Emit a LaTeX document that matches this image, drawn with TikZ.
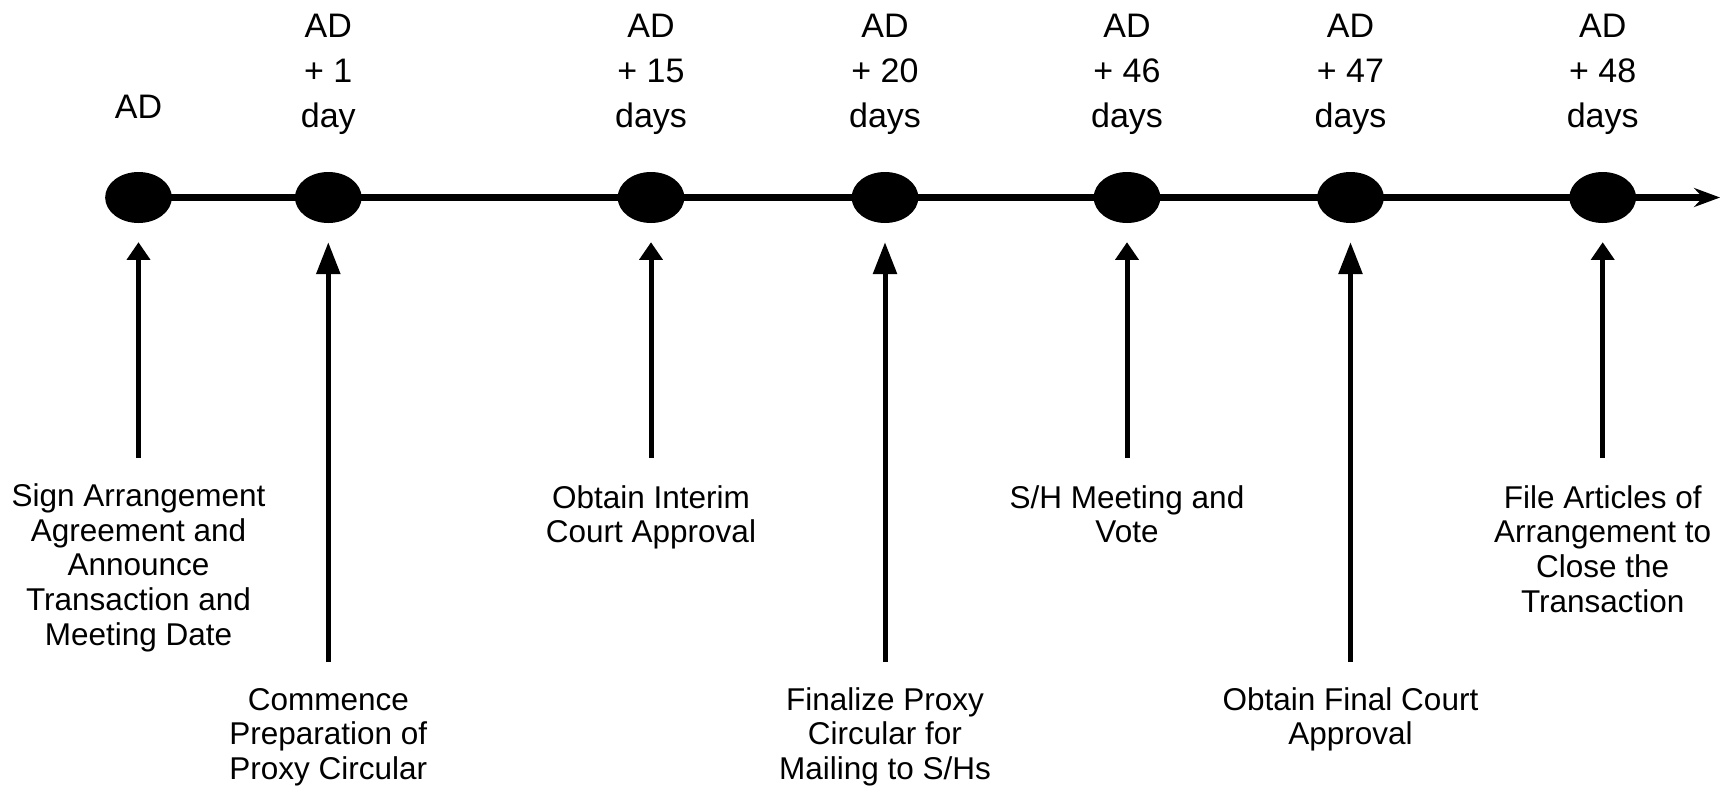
\documentclass[tikz,border=0pt]{standalone}
\usepackage{fontspec}
\setmainfont{Liberation Sans}
\usetikzlibrary{arrows.meta,shapes.geometric}
\begin{document}
\begin{tikzpicture}[x=1pt,y=-1pt,
  event/.style={ellipse, fill=black, minimum width=66.7pt, minimum height=51pt, inner sep=0pt},
  axisline/.style={line width=7pt, -{Stealth[length=26pt,width=19pt,inset=9pt]}},
  shortarr/.style={line width=5pt, shorten >=19pt, -{Triangle[length=17.6pt,width=22.7pt]}},
  longarr/.style={line width=5pt, shorten >=19pt, -{Triangle[length=32pt,width=23.3pt]}},
  when/.style={font=\fontsize{34}{45}\selectfont, align=center, inner sep=0pt, anchor=base},
  task/.style={font=\fontsize{31.5}{34.6}\selectfont, align=center, inner sep=0pt, anchor=base}]
\useasboundingbox (0,0) rectangle (1727,787);

% milestones on the time axis
\node[event] (d0) at (138.5,197.5) {};
\node[event] (d1) at (328.3,197.5) {};
\node[event] (d2) at (651,197.5) {};
\node[event] (d3) at (885,197.5) {};
\node[event] (d4) at (1127,197.5) {};
\node[event] (d5) at (1350.5,197.5) {};
\node[event] (d6) at (1602.7,197.5) {};
\coordinate (axisend) at (1720,197.5);
\draw[axisline] (d0.center) -- (axisend);

% dates above the axis (node base = baseline of the last line)
\node[when] (w0) at (138.5,118) {AD};
\node[when] (w1) at (328.3,127) {AD\\+ 1\\day};
\node[when] (w2) at (651,127) {AD\\+ 15\\days};
\node[when] (w3) at (885,127) {AD\\+ 20\\days};
\node[when] (w4) at (1127,127) {AD\\+ 46\\days};
\node[when] (w5) at (1350.5,127) {AD\\+ 47\\days};
\node[when] (w6) at (1602.7,127) {AD\\+ 48\\days};

% pointers from the tasks up to the milestones
\coordinate (t0) at (138.5,458);
\coordinate (t1) at (328.3,662);
\coordinate (t2) at (651,458);
\coordinate (t3) at (885,662);
\coordinate (t4) at (1127,458);
\coordinate (t5) at (1350.5,662);
\coordinate (t6) at (1602.7,458);
\draw[shortarr] (t0) -- (d0.south);
\draw[longarr]  (t1) -- (d1.south);
\draw[shortarr] (t2) -- (d2.south);
\draw[longarr]  (t3) -- (d3.south);
\draw[shortarr] (t4) -- (d4.south);
\draw[longarr]  (t5) -- (d5.south);
\draw[shortarr] (t6) -- (d6.south);

% task descriptions (node base = baseline of the last line)
\node[task] (k0) at (138.5,645.1) {Sign Arrangement\\Agreement and\\Announce\\Transaction and\\Meeting Date};
\node[task] (k1) at (328.3,779.2) {Commence\\Preparation of\\Proxy Circular};
\node[task] (k2) at (651,542.9) {Obtain Interim\\Court Approval};
\node[task] (k3) at (885,779.2) {Finalize Proxy\\Circular for\\Mailing to S/Hs};
\node[task] (k4) at (1127,542.9) {S/H Meeting and\\Vote};
\node[task] (k5) at (1350.5,744.6) {Obtain Final Court\\Approval};
\node[task] (k6) at (1602.7,612.1) {File Articles of\\Arrangement to\\Close the\\Transaction};
\end{tikzpicture}
\end{document}
